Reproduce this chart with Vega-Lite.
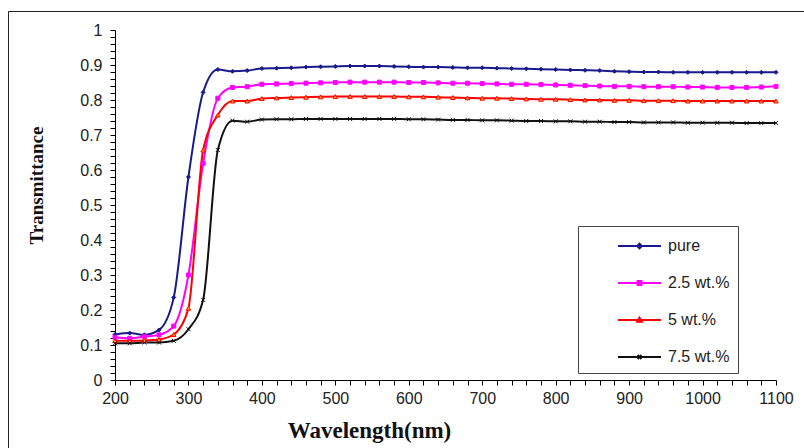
{
  "$schema": "https://vega.github.io/schema/vega-lite/v6.json",
  "width": 796,
  "height": 437,
  "autosize": {"type": "none"},
  "padding": {"left": 8, "top": 11, "right": 0, "bottom": 0},
  "background": "white",
  "config": {
    "view": {"stroke": "#222", "strokeWidth": 1},
    "axis": {"grid": false, "domainColor": "#000", "tickColor": "#000", "labelFont": "Liberation Sans", "labelFontSize": 16, "labelColor": "#222", "titleColor": "#111"}
  },
  "data": {"values": [
    {"w":200,"s":"pure","t":0.130},{"w":220,"s":"pure","t":0.134},{"w":240,"s":"pure","t":0.129},{"w":260,"s":"pure","t":0.143},{"w":280,"s":"pure","t":0.236},{"w":300,"s":"pure","t":0.580},{"w":320,"s":"pure","t":0.822},{"w":340,"s":"pure","t":0.887},{"w":360,"s":"pure","t":0.882},{"w":380,"s":"pure","t":0.884},{"w":400,"s":"pure","t":0.890},{"w":420,"s":"pure","t":0.891},{"w":440,"s":"pure","t":0.892},{"w":460,"s":"pure","t":0.894},{"w":480,"s":"pure","t":0.895},{"w":500,"s":"pure","t":0.896},{"w":520,"s":"pure","t":0.897},{"w":540,"s":"pure","t":0.897},{"w":560,"s":"pure","t":0.897},{"w":580,"s":"pure","t":0.896},{"w":600,"s":"pure","t":0.895},{"w":620,"s":"pure","t":0.894},{"w":640,"s":"pure","t":0.894},{"w":660,"s":"pure","t":0.893},{"w":680,"s":"pure","t":0.892},{"w":700,"s":"pure","t":0.892},{"w":720,"s":"pure","t":0.891},{"w":740,"s":"pure","t":0.890},{"w":760,"s":"pure","t":0.889},{"w":780,"s":"pure","t":0.888},{"w":800,"s":"pure","t":0.887},{"w":820,"s":"pure","t":0.886},{"w":840,"s":"pure","t":0.885},{"w":860,"s":"pure","t":0.884},{"w":880,"s":"pure","t":0.882},{"w":900,"s":"pure","t":0.881},{"w":920,"s":"pure","t":0.880},{"w":940,"s":"pure","t":0.880},{"w":960,"s":"pure","t":0.879},{"w":980,"s":"pure","t":0.879},{"w":1000,"s":"pure","t":0.879},{"w":1020,"s":"pure","t":0.879},{"w":1040,"s":"pure","t":0.879},{"w":1060,"s":"pure","t":0.879},{"w":1080,"s":"pure","t":0.879},{"w":1100,"s":"pure","t":0.879},
    {"w":200,"s":"2.5 wt.%","t":0.122},{"w":220,"s":"2.5 wt.%","t":0.119},{"w":240,"s":"2.5 wt.%","t":0.124},{"w":260,"s":"2.5 wt.%","t":0.129},{"w":280,"s":"2.5 wt.%","t":0.154},{"w":300,"s":"2.5 wt.%","t":0.300},{"w":320,"s":"2.5 wt.%","t":0.619},{"w":340,"s":"2.5 wt.%","t":0.805},{"w":360,"s":"2.5 wt.%","t":0.836},{"w":380,"s":"2.5 wt.%","t":0.838},{"w":400,"s":"2.5 wt.%","t":0.845},{"w":420,"s":"2.5 wt.%","t":0.846},{"w":440,"s":"2.5 wt.%","t":0.847},{"w":460,"s":"2.5 wt.%","t":0.848},{"w":480,"s":"2.5 wt.%","t":0.849},{"w":500,"s":"2.5 wt.%","t":0.850},{"w":520,"s":"2.5 wt.%","t":0.851},{"w":540,"s":"2.5 wt.%","t":0.851},{"w":560,"s":"2.5 wt.%","t":0.851},{"w":580,"s":"2.5 wt.%","t":0.851},{"w":600,"s":"2.5 wt.%","t":0.850},{"w":620,"s":"2.5 wt.%","t":0.850},{"w":640,"s":"2.5 wt.%","t":0.849},{"w":660,"s":"2.5 wt.%","t":0.848},{"w":680,"s":"2.5 wt.%","t":0.848},{"w":700,"s":"2.5 wt.%","t":0.847},{"w":720,"s":"2.5 wt.%","t":0.846},{"w":740,"s":"2.5 wt.%","t":0.845},{"w":760,"s":"2.5 wt.%","t":0.845},{"w":780,"s":"2.5 wt.%","t":0.844},{"w":800,"s":"2.5 wt.%","t":0.843},{"w":820,"s":"2.5 wt.%","t":0.842},{"w":840,"s":"2.5 wt.%","t":0.841},{"w":860,"s":"2.5 wt.%","t":0.840},{"w":880,"s":"2.5 wt.%","t":0.839},{"w":900,"s":"2.5 wt.%","t":0.839},{"w":920,"s":"2.5 wt.%","t":0.838},{"w":940,"s":"2.5 wt.%","t":0.838},{"w":960,"s":"2.5 wt.%","t":0.838},{"w":980,"s":"2.5 wt.%","t":0.837},{"w":1000,"s":"2.5 wt.%","t":0.837},{"w":1020,"s":"2.5 wt.%","t":0.836},{"w":1040,"s":"2.5 wt.%","t":0.836},{"w":1060,"s":"2.5 wt.%","t":0.836},{"w":1080,"s":"2.5 wt.%","t":0.837},{"w":1100,"s":"2.5 wt.%","t":0.839},
    {"w":200,"s":"5 wt.%","t":0.112},{"w":220,"s":"5 wt.%","t":0.112},{"w":240,"s":"5 wt.%","t":0.113},{"w":260,"s":"5 wt.%","t":0.116},{"w":280,"s":"5 wt.%","t":0.130},{"w":300,"s":"5 wt.%","t":0.205},{"w":320,"s":"5 wt.%","t":0.657},{"w":340,"s":"5 wt.%","t":0.757},{"w":360,"s":"5 wt.%","t":0.797},{"w":380,"s":"5 wt.%","t":0.797},{"w":400,"s":"5 wt.%","t":0.804},{"w":420,"s":"5 wt.%","t":0.806},{"w":440,"s":"5 wt.%","t":0.807},{"w":460,"s":"5 wt.%","t":0.808},{"w":480,"s":"5 wt.%","t":0.809},{"w":500,"s":"5 wt.%","t":0.810},{"w":520,"s":"5 wt.%","t":0.810},{"w":540,"s":"5 wt.%","t":0.810},{"w":560,"s":"5 wt.%","t":0.810},{"w":580,"s":"5 wt.%","t":0.810},{"w":600,"s":"5 wt.%","t":0.809},{"w":620,"s":"5 wt.%","t":0.809},{"w":640,"s":"5 wt.%","t":0.808},{"w":660,"s":"5 wt.%","t":0.807},{"w":680,"s":"5 wt.%","t":0.806},{"w":700,"s":"5 wt.%","t":0.805},{"w":720,"s":"5 wt.%","t":0.805},{"w":740,"s":"5 wt.%","t":0.804},{"w":760,"s":"5 wt.%","t":0.803},{"w":780,"s":"5 wt.%","t":0.802},{"w":800,"s":"5 wt.%","t":0.802},{"w":820,"s":"5 wt.%","t":0.801},{"w":840,"s":"5 wt.%","t":0.800},{"w":860,"s":"5 wt.%","t":0.800},{"w":880,"s":"5 wt.%","t":0.799},{"w":900,"s":"5 wt.%","t":0.799},{"w":920,"s":"5 wt.%","t":0.798},{"w":940,"s":"5 wt.%","t":0.798},{"w":960,"s":"5 wt.%","t":0.798},{"w":980,"s":"5 wt.%","t":0.797},{"w":1000,"s":"5 wt.%","t":0.797},{"w":1020,"s":"5 wt.%","t":0.797},{"w":1040,"s":"5 wt.%","t":0.797},{"w":1060,"s":"5 wt.%","t":0.797},{"w":1080,"s":"5 wt.%","t":0.797},{"w":1100,"s":"5 wt.%","t":0.797},
    {"w":200,"s":"7.5 wt.%","t":0.105},{"w":220,"s":"7.5 wt.%","t":0.105},{"w":240,"s":"7.5 wt.%","t":0.107},{"w":260,"s":"7.5 wt.%","t":0.107},{"w":280,"s":"7.5 wt.%","t":0.112},{"w":300,"s":"7.5 wt.%","t":0.145},{"w":320,"s":"7.5 wt.%","t":0.229},{"w":340,"s":"7.5 wt.%","t":0.657},{"w":360,"s":"7.5 wt.%","t":0.741},{"w":380,"s":"7.5 wt.%","t":0.738},{"w":400,"s":"7.5 wt.%","t":0.744},{"w":420,"s":"7.5 wt.%","t":0.745},{"w":440,"s":"7.5 wt.%","t":0.745},{"w":460,"s":"7.5 wt.%","t":0.746},{"w":480,"s":"7.5 wt.%","t":0.746},{"w":500,"s":"7.5 wt.%","t":0.746},{"w":520,"s":"7.5 wt.%","t":0.746},{"w":540,"s":"7.5 wt.%","t":0.746},{"w":560,"s":"7.5 wt.%","t":0.746},{"w":580,"s":"7.5 wt.%","t":0.746},{"w":600,"s":"7.5 wt.%","t":0.745},{"w":620,"s":"7.5 wt.%","t":0.745},{"w":640,"s":"7.5 wt.%","t":0.744},{"w":660,"s":"7.5 wt.%","t":0.743},{"w":680,"s":"7.5 wt.%","t":0.743},{"w":700,"s":"7.5 wt.%","t":0.742},{"w":720,"s":"7.5 wt.%","t":0.742},{"w":740,"s":"7.5 wt.%","t":0.741},{"w":760,"s":"7.5 wt.%","t":0.740},{"w":780,"s":"7.5 wt.%","t":0.740},{"w":800,"s":"7.5 wt.%","t":0.739},{"w":820,"s":"7.5 wt.%","t":0.739},{"w":840,"s":"7.5 wt.%","t":0.738},{"w":860,"s":"7.5 wt.%","t":0.738},{"w":880,"s":"7.5 wt.%","t":0.737},{"w":900,"s":"7.5 wt.%","t":0.737},{"w":920,"s":"7.5 wt.%","t":0.736},{"w":940,"s":"7.5 wt.%","t":0.736},{"w":960,"s":"7.5 wt.%","t":0.736},{"w":980,"s":"7.5 wt.%","t":0.735},{"w":1000,"s":"7.5 wt.%","t":0.735},{"w":1020,"s":"7.5 wt.%","t":0.735},{"w":1040,"s":"7.5 wt.%","t":0.735},{"w":1060,"s":"7.5 wt.%","t":0.734},{"w":1080,"s":"7.5 wt.%","t":0.734},{"w":1100,"s":"7.5 wt.%","t":0.734}
  ]},
  "encoding": {
    "x": {
      "field": "w", "type": "quantitative",
      "scale": {"domain": [200, 1100], "range": [107, 768], "nice": false, "zero": false},
      "axis": {
        "orient": "bottom", "offset": -68,
        "values": [200,220,240,260,280,300,320,340,360,380,400,420,440,460,480,500,520,540,560,580,600,620,640,660,680,700,720,740,760,780,800,820,840,860,880,900,920,940,960,980,1000,1020,1040,1060,1080,1100],
        "format": "d",
        "labelExpr": "datum.value % 100 == 0 ? datum.label : ''",
        "labelOverlap": false, "labelFlush": false, "labelPadding": 5, "tickSize": 5,
        "title": "Wavelength(nm)", "titleFont": "Liberation Serif", "titleFontSize": 23, "titleFontWeight": "bold",
        "titleX": 361, "titleY": 57, "titleBaseline": "alphabetic", "titleAlign": "center"
      }
    },
    "y": {
      "field": "t", "type": "quantitative",
      "scale": {"domain": [0, 1], "range": [369, 19], "nice": false, "zero": false},
      "axis": {
        "orient": "left", "offset": -107,
        "values": [0,0.02,0.04,0.06,0.08,0.1,0.12,0.14,0.16,0.18,0.2,0.22,0.24,0.26,0.28,0.3,0.32,0.34,0.36,0.38,0.4,0.42,0.44,0.46,0.48,0.5,0.52,0.54,0.56,0.58,0.6,0.62,0.64,0.66,0.68,0.7,0.72,0.74,0.76,0.78,0.8,0.82,0.84,0.86,0.88,0.9,0.92,0.94,0.96,0.98,1],
        "format": "~g",
        "labelExpr": "round(datum.value * 50) % 5 == 0 ? datum.label : ''",
        "labelOverlap": false, "labelFlush": false, "labelPadding": 8, "tickSize": 5,
        "title": "Transmittance", "titleFont": "Liberation Serif", "titleFontSize": 19, "titleFontWeight": "bold",
        "titleX": -73, "titleY": 174, "titleBaseline": "alphabetic", "titleAlign": "center", "titleAngle": 270
      }
    }
  },
  "layer": [
    {
      "mark": {"type": "line", "interpolate": "monotone", "strokeWidth": 2},
      "encoding": {
        "color": {
          "field": "s", "type": "nominal",
          "scale": {"domain": ["pure", "2.5 wt.%", "5 wt.%", "7.5 wt.%"], "range": ["#1a1a8a", "#ff00ff", "#ff0000", "#111111"]},
          "legend": {
            "orient": "none", "legendX": 570, "legendY": 215, "title": null,
            "strokeColor": "#444", "fillColor": "white", "padding": 8, "rowPadding": 17,
            "symbolType": "M-2,0H2", "symbolSize": 462, "symbolStrokeWidth": 2,
            "symbolOffset": 41.5, "labelOffset": 16.5,
            "labelFont": "Liberation Sans", "labelFontSize": 16, "labelColor": "#222",
            "labelExpr": "datum.label + '\u00a0\u00a0\u00a0\u00a0\u00a0\u00a0\u00a0\u00a0\u00a0\u00a0\u00a0\u00a0\u00a0\u00a0'",
            "encode": {
              "symbols": {
                "update": {
                  "shape": {"signal": "datum.value == 'pure' ? 'M-2,0H2M0,-0.22L0.22,0L0,0.22L-0.22,0Z' : datum.value == '2.5 wt.%' ? 'M-2,0H2M-0.18,-0.18H0.18V0.18H-0.18Z' : datum.value == '5 wt.%' ? 'M-2,0H2M0,-0.22L0.22,0.16L-0.22,0.16Z' : 'M-2,0H2M-0.18,-0.18L0.18,0.18M-0.18,0.18L0.18,-0.18'"},
                  "fill": {"signal": "datum.value == 'pure' ? '#1a1a8a' : datum.value == '2.5 wt.%' ? '#ff00ff' : datum.value == '5 wt.%' ? '#ffb000' : 'transparent'"}
                }
              }
            }
          }
        }
      }
    },
    {
      "transform": [{"filter": "datum.s == 'pure'"}],
      "mark": {"type": "point", "shape": "diamond", "filled": true, "fill": "#1a1a8a", "stroke": "#1a1a8a", "strokeWidth": 1, "size": 16, "opacity": 1}
    },
    {
      "transform": [{"filter": "datum.s == '2.5 wt.%'"}],
      "mark": {"type": "point", "shape": "square", "filled": true, "fill": "#ff00ff", "stroke": "#ff00ff", "strokeWidth": 1, "size": 16, "opacity": 1}
    },
    {
      "transform": [{"filter": "datum.s == '5 wt.%'"}],
      "mark": {"type": "point", "shape": "triangle-up", "filled": true, "fill": "#ffb000", "stroke": "#ff0000", "strokeWidth": 1, "size": 20, "opacity": 1}
    },
    {
      "transform": [{"filter": "datum.s == '7.5 wt.%'"}],
      "mark": {"type": "point", "shape": "M-1,-1L1,1M-1,1L1,-1", "filled": false, "stroke": "#111111", "strokeWidth": 1, "size": 16, "opacity": 1}
    }
  ]
}
